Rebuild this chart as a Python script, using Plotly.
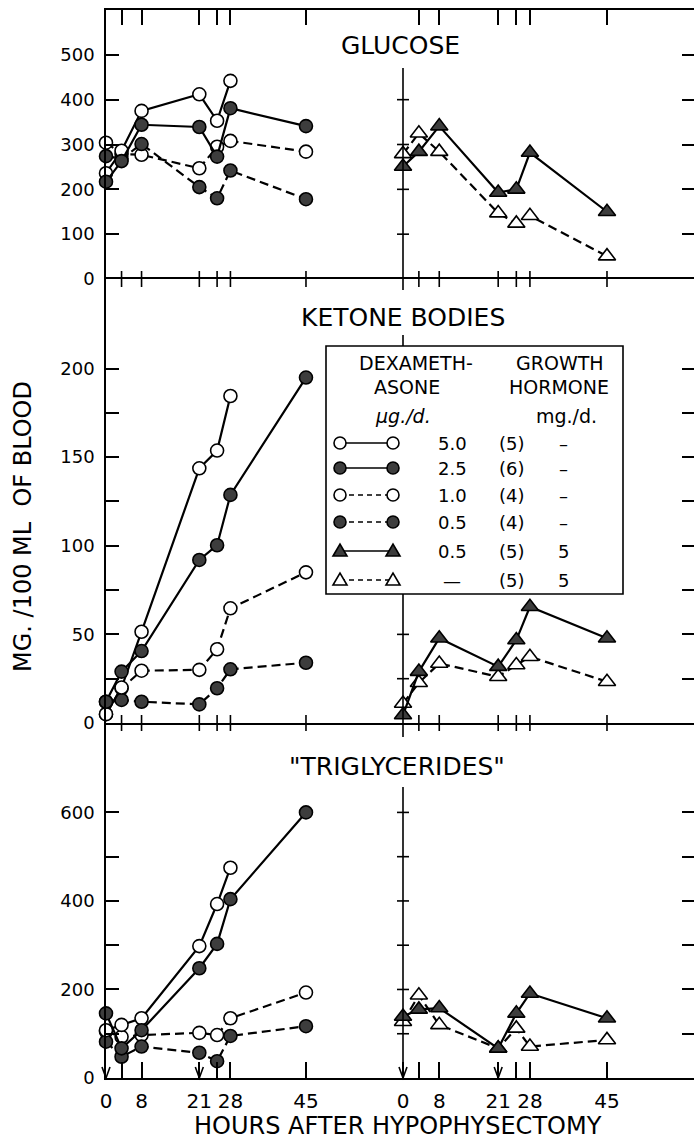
import plotly.graph_objects as go

# ---------------- data ----------------
HOURS = [0, 3.5, 8, 21, 25, 28, 45]
HOURS_SHORT = [0, 3.5, 8, 21, 25, 28]          # 5.0 ug/d group: no 45 h value

# Glucose (mg/100 ml)
glu_dex50 = [236, 286, 375, 412, 353, 442]
glu_dex25 = [217, 263, 344, 339, 273, 381, 341]
glu_dex10 = [304, 279, 277, 247, 295, 308, 284]
glu_dex05 = [274, 268, 301, 205, 180, 242, 178]
glu_gh_dex = [251, 284, 341, 193, 200, 282, 150]
glu_gh = [279, 325, 284, 147, 124, 141, 51]

# Ketone bodies
ket_dex50 = [5, 20, 51.5, 143.7, 153.7, 184.5]
ket_dex25 = [12, 29, 40.6, 92, 100.3, 128.7, 194.9]
ket_dex10 = [5, 19.6, 29.5, 30, 41.6, 64.7, 85]
ket_dex05 = [12, 13, 12, 10.5, 19.6, 30.3, 34]
ket_gh_dex = [4.5, 29, 47.8, 31.8, 46.8, 65.6, 47.8]
ket_gh = [11, 22.7, 33.6, 26.1, 32.7, 37.4, 23.3]

# "Triglycerides"
tg_dex50 = [108, 120, 135, 298, 393, 475]
tg_dex25 = [146, 67, 108, 248, 303, 404, 600]
tg_dex10 = [105, 93, 97, 102, 97, 135, 193]
tg_dex05 = [82, 48, 71, 57, 38, 95, 117]
tg_gh_dex = [139, 155, 158, 67, 146, 191, 135]
tg_gh = [127, 187, 120, 67, 112, 71, 86]

PANEL_TITLES = ["GLUCOSE", "KETONE BODIES", "\"TRIGLYCERIDES\""]
X_TICK_HOURS = [0, 3.5, 8, 21, 25, 28, 45]
X_TICK_TEXT = ["0", "", "8", "21", "", "28", "45"]
INNER_TICK_HOURS = [3.5, 8, 21, 25, 28, 45]

Y1_TICKS = [0, 100, 200, 300, 400, 500]
Y1_TEXT = ["0", "100", "200", "300", "400", "500"]
Y2_TICKS = [0, 25, 50, 75, 100, 125, 150, 175, 200]
Y2_TEXT = ["0", "", "50", "", "100", "", "150", "", "200"]
Y3_TICKS = [0, 100, 200, 300, 400, 500, 600]
Y3_TEXT = ["0", "", "200", "", "400", "", "600"]

LEG_DOSE = ["5.0", "2.5", "1.0", "0.5", "0.5", "\u2014"]
LEG_N = ["(5)", "(6)", "(4)", "(4)", "(5)", "(5)"]
LEG_GH = ["\u2013", "\u2013", "\u2013", "\u2013", "5", "5"]

# ---------------- geometry (pixels) ----------------
W, H = 694, 1142
L, R, T, B = 106, 694, 10, 1078
SEP1, SEP2 = 279, 723
COL_SPLIT = 350
LEFT_ZERO_PX, LEFT_PPH = 106, 4.444
RIGHT_ZERO_PX, RIGHT_PPH = 403, 4.533


def fx(px):
    return (px - L) / (R - L)


def fy(py):
    return (B - py) / (B - T)


xl_range = [(L - LEFT_ZERO_PX) / LEFT_PPH, (COL_SPLIT - LEFT_ZERO_PX) / LEFT_PPH]
xr_range = [(COL_SPLIT - RIGHT_ZERO_PX) / RIGHT_PPH, (R - RIGHT_ZERO_PX) / RIGHT_PPH]
dom_l = [0, fx(COL_SPLIT)]
dom_r = [fx(COL_SPLIT), 1]
dom_rows = [[fy(SEP1), 1], [fy(SEP2), fy(SEP1)], [0, fy(SEP2)]]
y_ranges = [[0, 600], [0, 250.5], [0, 802]]

FONT = "DejaVu Sans"
FILL = "#3d3d3d"
LW = 1.6

fig = go.Figure()

STYLE = {
    "dex50": dict(sym="circle", filled=False, dash=False),
    "dex25": dict(sym="circle", filled=True, dash=False),
    "dex10": dict(sym="circle", filled=False, dash=True),
    "dex05": dict(sym="circle", filled=True, dash=True),
    "ghdex": dict(sym="triangle-up", filled=True, dash=False),
    "gh": dict(sym="triangle-up", filled=False, dash=True),
}


def add(xs, ys, xa, ya, key):
    st = STYLE[key]
    fig.add_trace(go.Scatter(
        x=xs, y=ys, xaxis=xa, yaxis=ya, mode="lines+markers",
        line=dict(color="black", width=2.2, dash="9px,5px" if st["dash"] else "solid"),
        marker=dict(symbol=st["sym"], size=13 if st["sym"] == "circle" else 15,
                    color=FILL if st["filled"] else "white",
                    line=dict(color="black", width=LW)),
        cliponaxis=False, showlegend=False, hoverinfo="skip"))


panels = [
    (glu_dex50, glu_dex25, glu_dex10, glu_dex05, glu_gh_dex, glu_gh),
    (ket_dex50, ket_dex25, ket_dex10, ket_dex05, ket_gh_dex, ket_gh),
    (tg_dex50, tg_dex25, tg_dex10, tg_dex05, tg_gh_dex, tg_gh),
]
for i, (d50, d25, d10, d05, ghd, gh) in enumerate(panels):
    xa_l, ya_l = ("x", "y") if i == 0 else (f"x{2*i+1}", f"y{2*i+1}")
    xa_r, ya_r = f"x{2*i+2}", f"y{2*i+2}"
    add(HOURS, d10, xa_l, ya_l, "dex10")
    add(HOURS, d05, xa_l, ya_l, "dex05")
    add(HOURS_SHORT, d50, xa_l, ya_l, "dex50")
    add(HOURS, d25, xa_l, ya_l, "dex25")
    add(HOURS, gh, xa_r, ya_r, "gh")
    add(HOURS, ghd, xa_r, ya_r, "ghdex")

tickfont = dict(family=FONT, size=18, color="black")
base_x = dict(showgrid=False, zeroline=False, linecolor="black", linewidth=LW,
              tickcolor="black", tickwidth=LW, fixedrange=True)
base_y = dict(showgrid=False, zeroline=False, linecolor="black", linewidth=LW,
              tickcolor="black", tickwidth=LW, fixedrange=True)

lay = {}
y_ticks = [(Y1_TICKS, Y1_TEXT), (Y2_TICKS, Y2_TEXT), (Y3_TICKS, Y3_TEXT)]
for i in range(3):
    nl, nr = 2 * i + 1, 2 * i + 2
    kxl = "xaxis" if nl == 1 else f"xaxis{nl}"
    kyl = "yaxis" if nl == 1 else f"yaxis{nl}"
    ayl = "y" if nl == 1 else f"y{nl}"
    axl = "x" if nl == 1 else f"x{nl}"
    for side, kx, ky, ax_id, ay_id, dom, rng in [
        ("l", kxl, kyl, axl, ayl, dom_l, xl_range),
        ("r", f"xaxis{nr}", f"yaxis{nr}", f"x{nr}", f"y{nr}", dom_r, xr_range),
    ]:
        xd = dict(base_x, domain=dom, range=rng, anchor=ay_id)
        if i == 0:
            xd.update(side="top", showline=True, ticks="inside", ticklen=15,
                      tickvals=INNER_TICK_HOURS, showticklabels=False)
        elif i == 1:
            xd.update(showline=True, mirror=True, ticks="", showticklabels=False)
        else:
            xd.update(side="bottom", showline=True, ticks="inside", ticklen=16,
                      tickvals=X_TICK_HOURS, ticktext=X_TICK_TEXT,
                      tickfont=dict(family=FONT, size=20, color="black"),
                      ticklabelstandoff=4)
        lay[kx] = xd
        tv, tt = y_ticks[i]
        yd = dict(base_y, domain=dom_rows[i], range=y_ranges[i], anchor=ax_id)
        if side == "l":
            yd.update(showline=True, ticks="inside", ticklen=13, tickvals=tv,
                      ticktext=tt, tickfont=tickfont, ticklabelstandoff=6)
        else:
            yd.update(side="right", showline=False, ticks="inside", ticklen=12,
                      tickvals=[v for v in tv if v > 0], showticklabels=False)
        lay[ky] = yd

shapes = []
# crossing ticks at the panel separators
for py in (SEP1, SEP2):
    for xref in ("x", "x2"):
        for h in INNER_TICK_HOURS:
            shapes.append(dict(type="line", xref=xref, yref="paper", x0=h, x1=h,
                               y0=fy(py + 8), y1=fy(py - 8),
                               line=dict(color="black", width=LW), layer="above"))
# inner vertical axes of the growth-hormone section
for (ytop, ybot) in [(68, 290), (335, 737), (787, 1078)]:
    shapes.append(dict(type="line", xref="x2", yref="paper", x0=0, x1=0,
                       y0=fy(ybot), y1=fy(ytop),
                       line=dict(color="black", width=LW), layer="above"))
inner_ticks = [("x2", "y2", [100, 200, 300, 400]),
               ("x4", "y4", [25, 50, 75, 100, 125, 150, 175, 200]),
               ("x6", "y6", [100, 200, 300, 400, 500, 600])]
for xr, yr, vals in inner_ticks:
    for v in vals:
        shapes.append(dict(type="line", xref=xr, yref=yr, xsizemode="pixel",
                           xanchor=0, x0=-6, x1=6, y0=v, y1=v,
                           line=dict(color="black", width=LW), layer="above"))
# arrowheads at the bottom axis
ARROW = "M -4,11 L 0,0 L 4,11"
for xr, xa in [("x5 domain", 0), ("x5", 21), ("x6", 0), ("x6", 21)]:
    shapes.append(dict(type="path", xref=xr, yref="paper", xsizemode="pixel",
                       ysizemode="pixel", xanchor=xa, yanchor=0, path=ARROW,
                       line=dict(color="black", width=LW), layer="above"))

# ---------------- legend box ----------------
LG_L, LG_R, LG_T, LG_B = 326, 623, 346, 594
shapes.append(dict(type="rect", xref="paper", yref="paper", x0=fx(LG_L), x1=fx(LG_R),
                   y0=fy(LG_B), y1=fy(LG_T), fillcolor="white",
                   line=dict(color="black", width=LW), layer="above"))
row_y = [443, 468, 495, 522, 551, 580]
keys = ["dex50", "dex25", "dex10", "dex05", "ghdex", "gh"]
S_X0, S_X1 = 340, 393
for ry, k in zip(row_y, keys):
    st = STYLE[k]
    shapes.append(dict(type="line", xref="paper", yref="paper", x0=fx(S_X0), x1=fx(S_X1),
                       y0=fy(ry), y1=fy(ry), layer="above",
                       line=dict(color="black", width=1.5, dash="5px,4px" if st["dash"] else "solid")))
    for sx in (S_X0, S_X1):
        fill = FILL if st["filled"] else "white"
        if st["sym"] == "circle":
            shapes.append(dict(type="circle", xref="paper", yref="paper",
                               xsizemode="pixel", ysizemode="pixel",
                               xanchor=fx(sx), yanchor=fy(ry), x0=-6, x1=6, y0=-6, y1=6,
                               fillcolor=fill, line=dict(color="black", width=LW), layer="above"))
        else:
            shapes.append(dict(type="path", xref="paper", yref="paper",
                               xsizemode="pixel", ysizemode="pixel",
                               xanchor=fx(sx), yanchor=fy(ry),
                               path="M -7,-5 L 7,-5 L 0,7 Z",
                               fillcolor=fill, line=dict(color="black", width=LW), layer="above"))

ann = []


def text(s, px, py, size=18, **kw):
    d = dict(text=s, x=fx(px), y=fy(py), xref="paper", yref="paper",
             showarrow=False, xanchor="center", yanchor="middle",
             font=dict(family=FONT, size=size, color="black"))
    d.update(kw)
    ann.append(d)


text(PANEL_TITLES[0], 401, 46, size=25)
text(PANEL_TITLES[1], 403, 317, size=25)
text(PANEL_TITLES[2], 397, 766, size=25)
text("DEXAMETH-", 416, 363, size=19)
text("ASONE", 407, 387, size=19)
text("<i>\u00b5g./d.</i>", 403, 416, size=19)
text("GROWTH", 560, 363, size=19)
text("HORMONE", 559, 387, size=19)
text("mg./d.", 566, 416, size=19)
for ry, a, b, c in zip(row_y, LEG_DOSE, LEG_N, LEG_GH):
    text(a, 452, ry, size=18)
    text(b, 512, ry, size=18)
    text(c, 563, ry, size=18)
text("HOURS AFTER HYPOPHYSECTOMY", 398, 1141, size=24, yanchor="bottom", borderpad=0)
text("MG. /100 ML  OF BLOOD", 23, 527, size=24, textangle=-90)

fig.update_layout(
    width=W, height=H, autosize=False,
    margin=dict(l=L, r=W - R, t=T, b=H - B, pad=0),
    paper_bgcolor="white", plot_bgcolor="rgba(0,0,0,0)",
    showlegend=False, shapes=shapes, annotations=ann,
    font=dict(family=FONT, color="black"),
    **lay,
)
fig.write_html("out.html", config={"displayModeBar": False})
